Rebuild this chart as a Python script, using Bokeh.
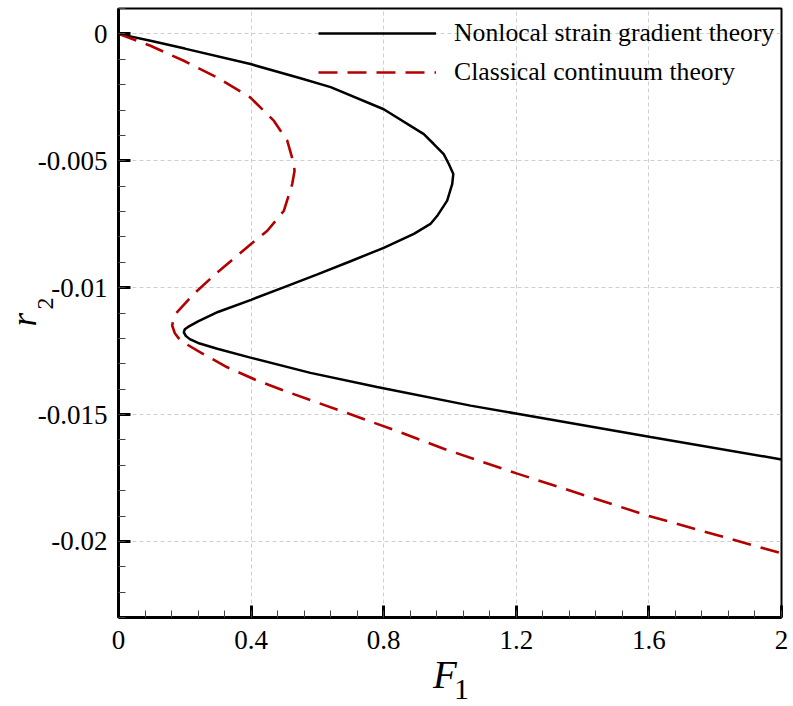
from bokeh.plotting import figure
from bokeh.models import (SingleIntervalTicker, FixedTicker, CustomJSTickFormatter,
                          LinearAxis, Range1d)
from bokeh.embed import file_html
from bokeh.resources import INLINE

# Nonlocal strain gradient theory (F1, r2)
nsg_F = [0.0, 0.1, 0.2, 0.398, 0.549, 0.640, 0.800, 0.921, 0.951, 0.981,
         0.9965, 1.010, 1.0066, 0.9915, 0.961, 0.941, 0.891, 0.800, 0.700, 0.600,
         0.500, 0.400, 0.300, 0.240, 0.210, 0.200, 0.197, 0.203, 0.215, 0.240,
         0.298, 0.398, 0.579, 0.780, 1.062, 1.203, 1.605, 2.0]
nsg_r = [0.0, -0.00028, -0.00058, -0.00119, -0.00175, -0.00210, -0.00297, -0.00395, -0.00434, -0.00474,
         -0.00513, -0.00552, -0.00592, -0.00657, -0.00718, -0.00749, -0.00788, -0.00843, -0.00896, -0.00948,
         -0.00998, -0.01048, -0.01096, -0.01133, -0.01155, -0.01164, -0.01176, -0.01190, -0.01203, -0.01218,
         -0.01241, -0.01276, -0.01336, -0.01392, -0.01465, -0.01497, -0.01589, -0.01677]

# Classical continuum theory (F1, r2)
cct_F = [0.0, 0.0965, 0.197, 0.298, 0.398, 0.469, 0.509, 0.529, 0.531,
         0.524, 0.499, 0.449, 0.398, 0.298, 0.227, 0.172, 0.165, 0.162, 0.170,
         0.187, 0.247, 0.328, 0.418, 0.499, 0.680, 0.840, 0.981, 1.203, 1.595,
         2.0]
cct_r = [0.0, -0.00047, -0.00106, -0.00172, -0.00251, -0.00343, -0.00421, -0.00513, -0.00540,
         -0.00592, -0.00697, -0.00776, -0.00830, -0.00940, -0.01025, -0.01104, -0.01128, -0.01150, -0.01180,
         -0.01209, -0.01255, -0.01314, -0.01366, -0.01406, -0.01490, -0.01565, -0.01635, -0.01733, -0.01898,
         -0.02047]

series_names = ["Nonlocal strain gradient theory", "Classical continuum theory"]
x_title, x_sub = "F", "1"
y_title, y_sub = "r", "2"

SERIF = "Liberation Serif"

p = figure(width=793, height=706, output_backend="svg", toolbar_location=None,
           x_range=Range1d(0, 2), y_range=Range1d(-0.023, 0.001),
           min_border_left=118, min_border_right=12, min_border_top=8, min_border_bottom=89)

p.outline_line_color = "black"
p.outline_line_width = 2
p.background_fill_color = "white"
p.border_fill_color = "white"

fmt = CustomJSTickFormatter(code="return (Math.round(tick*1e6)/1e6).toString();")
p.xaxis.ticker = SingleIntervalTicker(interval=0.4, num_minor_ticks=5)
p.yaxis.ticker = SingleIntervalTicker(interval=0.005, num_minor_ticks=5)
for ax in (p.xaxis[0], p.yaxis[0]):
    ax.formatter = fmt
    ax.axis_line_width = 3
    ax.axis_line_color = "black"
    ax.major_tick_in = 12
    ax.major_tick_out = 0
    ax.major_tick_line_width = 3
    ax.major_tick_line_color = "black"
    ax.minor_tick_in = 7
    ax.minor_tick_out = 0
    ax.minor_tick_line_width = 1
    ax.minor_tick_line_color = "#444444"
    ax.major_label_text_font = SERIF
    ax.major_label_text_font_size = "27px"
    ax.major_label_text_color = "black"
p.xaxis.major_label_standoff = 13
p.yaxis.major_label_standoff = 11

p.grid.grid_line_color = "#cfcfcf"
p.grid.grid_line_dash = "4 3"
p.grid.grid_line_width = 1

p.line(nsg_F, nsg_r, line_color="black", line_width=2.5, legend_label=series_names[0])
p.line(cct_F, cct_r, line_color="#b30000", line_width=2.6, line_dash="19 10",
       legend_label=series_names[1])

lg = p.legend[0]
lg.location = (200, 530)
lg.border_line_alpha = 0
lg.background_fill_alpha = 0
lg.padding = 0
lg.margin = 0
lg.glyph_width = 118
lg.glyph_height = 20
lg.label_height = 20
lg.label_standoff = 18
lg.spacing = 9
lg.label_text_font = SERIF
lg.label_text_font_size = "25.7px"
lg.label_text_color = "black"


def title_axis(side, pos, text, size, style, standoff):
    ax = LinearAxis(ticker=FixedTicker(ticks=[pos], minor_ticks=[]),
                    formatter=CustomJSTickFormatter(args={"t": text}, code="return t;"))
    ax.axis_line_color = None
    ax.major_tick_line_color = None
    ax.minor_tick_line_color = None
    ax.major_tick_out = 0
    ax.major_tick_in = 0
    ax.minor_tick_out = 0
    ax.minor_tick_in = 0
    ax.major_label_text_font = SERIF
    ax.major_label_text_font_size = size
    ax.major_label_text_font_style = style
    ax.major_label_text_color = "black"
    ax.major_label_standoff = standoff
    if side == "left":
        ax.major_label_orientation = "vertical"
    p.add_layout(ax, side)


# axis titles: italic symbol with upright subscript, placed via tick labels of bare axes
title_axis("below", 0.985, x_title, "39px", "italic", 1)
title_axis("below", 1.0347, x_sub, "30px", "normal", -19)
title_axis("left", -0.01063, y_sub, "24px", "normal", -19)
title_axis("left", -0.01126, y_title, "35px", "italic", -10)

open("out.html", "w").write(file_html(p, INLINE))
